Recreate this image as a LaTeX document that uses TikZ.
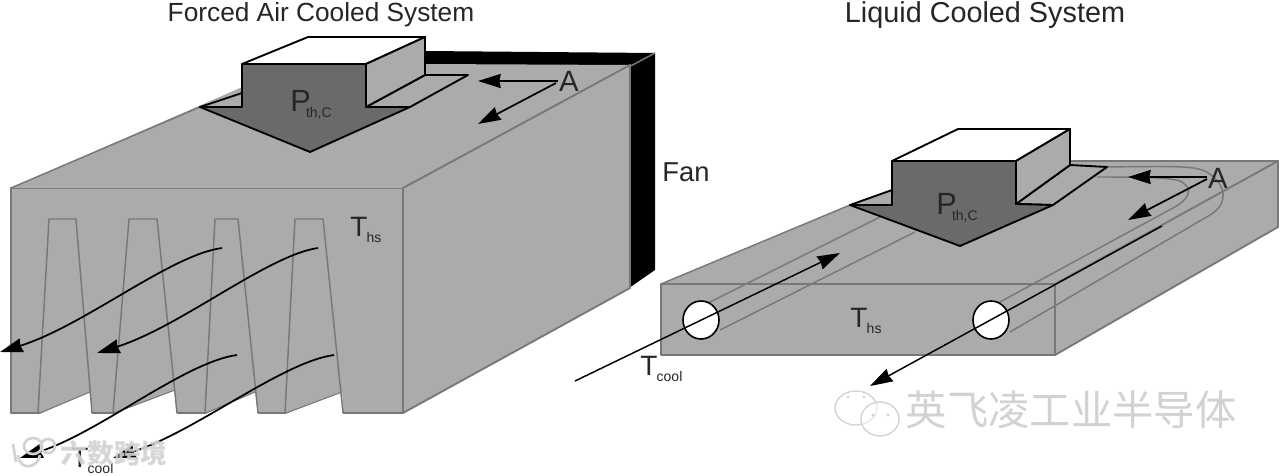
\documentclass[tikz,border=0pt]{standalone}
\usepackage{fontspec}
\setmainfont{Liberation Sans}
\newfontfamily\cjk{Noto Sans CJK SC}
\usetikzlibrary{arrows.meta}
\definecolor{face}{HTML}{ABABAB}
\definecolor{edge}{HTML}{787878}
\definecolor{dark}{HTML}{6A6A6A}
\definecolor{wm}{HTML}{D2D2D2}
\newcommand{\symb}[3][21]{{\fontsize{#1}{#1}\selectfont #2}\kern-0.5pt\raisebox{-4.5pt}{\fontsize{10.5}{10.5}\selectfont #3}}
\tikzset{
  facebox/.style={fill=face,draw=edge,line width=1.4pt,line join=round},
  finline/.style={draw=edge,line width=1.1pt},
  tube/.style={draw=edge,line width=1.1pt},
  outline/.style={draw=black,line width=1.4pt,line join=round},
  bigarrow/.style={draw=black,line width=1.3pt,-{Stealth[length=17pt,width=10.5pt,inset=1pt]}},
  label/.style={inner sep=0pt,anchor=base west,text=black!85},
  bigtext/.style={inner sep=0pt,text=black!85},
  watermark/.style={inner sep=0pt,text=wm}
}
\begin{document}
\begin{tikzpicture}[x=0.75pt,y=-0.75pt]
\useasboundingbox (0,0) rectangle (1280,475);
\fill[white] (0,0) rectangle (1280,475);
% titles
\node[bigtext,font=\fontsize{19.7}{20}\selectfont] (titleL) at (321,15) {Forced Air Cooled System};
\node[bigtext,font=\fontsize{21.6}{22}\selectfont] (titleR) at (985,15) {Liquid Cooled System};
% ===== left heat sink =====
\fill[black] (425,51) -- (655,53) -- (655,270) -- (629,288) -- (629,66) -- (425,66) -- cycle;
\path[facebox] (11,188) -- (403,188) -- (403,413) -- (11,413) -- cycle;
\fill[face] (11,188) -- (240,88) -- (425,64) -- (630,65) -- (403,188) -- cycle;
\draw[edge,line width=1.1pt] (11,188) -- (200,107);
\draw[edge,line width=1.1pt] (403,188) -- (655,53);
\path[facebox] (403,188) -- (630,65) -- (630,288) -- (403,413) -- cycle;
% channel openings
\fill[white] (40,413.8) -- (90,392) -- (92,413.8) -- cycle;
\fill[white] (114,413.8) -- (175,390) -- (177,413.8) -- cycle;
\fill[white] (206,413.8) -- (255,392) -- (258,413.8) -- cycle;
\fill[white] (286,413.8) -- (342,392) -- (343,413.8) -- cycle;
\draw[finline] (38,413) -- (49,219) -- (76,219) -- (92,413);
\draw[finline] (113,413) -- (129,219) -- (157,219) -- (177,413);
\draw[finline] (205,413) -- (215,219) -- (238,219) -- (258,413);
\draw[finline] (285,413) -- (295,219) -- (323,219) -- (343,413);
\draw[edge,line width=0.8pt] (40,413) -- (90,392) (114,413) -- (175,390) (206,413) -- (255,392) (286,413) -- (342,392);
% left module
\path[fill=face,outline] (200,107) -- (242,93) -- (242,107) -- cycle;
\path[fill=face,outline] (366,107) -- (425,75) -- (468,75) -- (410,107) -- cycle;
\path[fill=dark,outline] (200,107) -- (242,107) -- (242,64) -- (366,64) -- (366,107) -- (410,107) -- (310,152) -- cycle;
\path[fill=white,outline] (242,64) -- (308,37) -- (425,37) -- (366,64) -- cycle;
\path[fill=face,outline] (366,64) -- (425,37) -- (425,75) -- (366,107) -- cycle;
\node[label] (pL) at (290,111) {\symb[23]{P\kern-3pt}{th,C}};
\node[bigtext,font=\fontsize{22}{22}\selectfont] (aL) at (569,81) {A};
\coordinate (aL1) at (478,81);
\coordinate (aL2) at (478,124);
\draw[bigarrow] (558,81) -- (aL1);
\draw[bigarrow] (556,83) -- (aL2);
\node[label] (thsL) at (350,236) {\symb{T}{hs}};
\node[bigtext,font=\fontsize{20.5}{21}\selectfont] (fan) at (686,172) {Fan};
% flow arrows
\draw[bigarrow] (222,248) .. controls (170,255) and (84,326) .. (0,352);
\draw[bigarrow] (318,248) .. controls (268,255) and (180,327) .. (97,353);
\draw[bigarrow] (237,355) .. controls (185,362) and (100,432) .. (20,458);
\draw[bigarrow] (334,355) .. controls (282,362) and (195,432) .. (113,458);
\node[label] (tcL) at (71,467) {\symb{T}{cool}};
% ===== right heat sink =====
\fill[face] (661,284) -- (850,205) -- (892,190) -- (892,161) -- (1278,161) -- (1055,284) -- cycle;
\draw[edge,line width=1.1pt] (661,284) -- (850,205);
\draw[edge,line width=1.1pt] (1070,161) -- (1278,161);
\path[facebox] (1055,284) -- (1278,161) -- (1278,227) -- (1055,355) -- cycle;
\path[facebox] (661,284) -- (1055,284) -- (1055,355) -- (661,355) -- cycle;
% tubes
\draw[tube] (708,303) -- (880,217);
\draw[tube] (720,330) -- (915,232);
\draw[tube] (998,303) -- (1173,208) .. controls (1190,199) and (1194,188) .. (1180,181) .. controls (1170,177) and (1130,177) .. (1097,177);
\draw[tube] (1010,332) -- (1210,215) .. controls (1228,204) and (1228,186) .. (1207,172) .. controls (1195,166) and (1180,166) .. (1107,167);
\draw[black,fill=white,line width=1.2pt] (701,320) ellipse (18 and 19);
\draw[black,fill=white,line width=1.2pt] (991,320) ellipse (18 and 19);
% right module
\path[fill=face,outline] (850,205) -- (892,190) -- (892,205) -- cycle;
\path[fill=face,outline] (1016,204) -- (1070,165) -- (1107,167) -- (1053,205) -- cycle;
\path[fill=dark,outline] (850,205) -- (892,205) -- (892,161) -- (1016,161) -- (1016,204) -- (1053,205) -- (960,246) -- cycle;
\path[fill=white,outline] (892,161) -- (958,129) -- (1070,129) -- (1016,161) -- cycle;
\path[fill=face,outline] (1016,161) -- (1070,129) -- (1070,165) -- (1016,204) -- cycle;
\node[label] (pR) at (936,214) {\symb[23]{P\kern-3pt}{th,C}};
\node[bigtext,font=\fontsize{22}{22}\selectfont] (aR) at (1218,178) {A};
\coordinate (aR1) at (1128,177);
\coordinate (aR2) at (1128,220);
\draw[bigarrow] (1207,177) -- (aR1);
\draw[bigarrow] (1207,179) -- (aR2);
\coordinate (inS) at (575,381);
\coordinate (inE) at (840,253);
\coordinate (outS) at (1162,226);
\coordinate (outE) at (870,386);
\draw[bigarrow,line width=1.1pt] (inS) -- (inE);
\draw[bigarrow,line width=1.1pt] (outS) -- (outE);
\node[label] (thsR) at (850,327) {\symb{T}{hs}};
\node[label] (tcR) at (640,375) {\symb{T}{cool}};
% ===== watermarks =====
\node[watermark,font=\cjk\fontsize{31}{33}\selectfont] (wmR) at (1071,410) {英飞凌工业半导体};
\draw[wm,line width=1pt,fill=white,fill opacity=0.5] (856,408) ellipse (21 and 17);
\draw[wm,line width=1pt,fill=white,fill opacity=0.5] (880,419) ellipse (19 and 17);
\fill[wm] (848,397) circle (1.6) (864,397) circle (1.6) (873,415) circle (1.6) (888,415) circle (1.6);
\node[watermark,font=\cjk\bfseries\fontsize{20}{22}\selectfont,text=wm,opacity=0.9] (wmL) at (114,453) {六数跨境};
\draw[wm,line width=2pt] (13,444) -- (16,462);
\draw[wm,line width=2pt] (33,446) ellipse (9 and 8) (48,446) ellipse (7 and 7);
\draw[wm,line width=2pt] (18,455) .. controls (20,472) and (38,468) .. (40,455);
\end{tikzpicture}
\end{document}
